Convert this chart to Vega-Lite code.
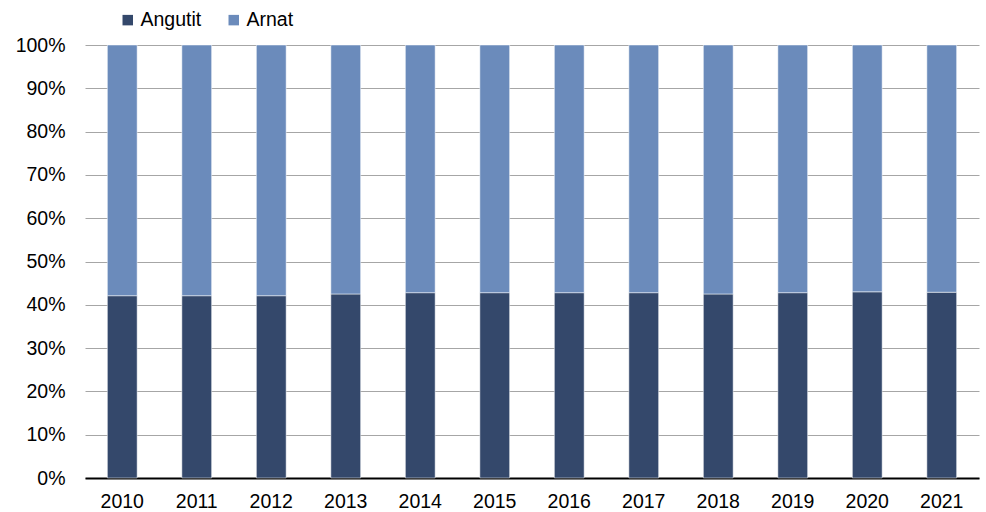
{
  "$schema": "https://vega.github.io/schema/vega-lite/v6.json",
  "width": 894,
  "height": 433,
  "autosize": {"type": "none"},
  "padding": {"left": 85, "top": 45, "right": 7, "bottom": 34},
  "background": "white",
  "data": {
    "values": [
      {"year": "2010", "group": "Angutit", "share": 42.1},
      {"year": "2011", "group": "Angutit", "share": 42.1},
      {"year": "2012", "group": "Angutit", "share": 42.1},
      {"year": "2013", "group": "Angutit", "share": 42.5},
      {"year": "2014", "group": "Angutit", "share": 42.8},
      {"year": "2015", "group": "Angutit", "share": 42.8},
      {"year": "2016", "group": "Angutit", "share": 42.8},
      {"year": "2017", "group": "Angutit", "share": 42.8},
      {"year": "2018", "group": "Angutit", "share": 42.5},
      {"year": "2019", "group": "Angutit", "share": 42.8},
      {"year": "2020", "group": "Angutit", "share": 43.0},
      {"year": "2021", "group": "Angutit", "share": 42.9},
      {"year": "2010", "group": "Arnat", "share": 57.9},
      {"year": "2011", "group": "Arnat", "share": 57.9},
      {"year": "2012", "group": "Arnat", "share": 57.9},
      {"year": "2013", "group": "Arnat", "share": 57.5},
      {"year": "2014", "group": "Arnat", "share": 57.2},
      {"year": "2015", "group": "Arnat", "share": 57.2},
      {"year": "2016", "group": "Arnat", "share": 57.2},
      {"year": "2017", "group": "Arnat", "share": 57.2},
      {"year": "2018", "group": "Arnat", "share": 57.5},
      {"year": "2019", "group": "Arnat", "share": 57.2},
      {"year": "2020", "group": "Arnat", "share": 57.0},
      {"year": "2021", "group": "Arnat", "share": 57.1}
    ]
  },
  "mark": {"type": "bar", "stroke": "white", "strokeWidth": 0.5},
  "encoding": {
    "x": {
      "field": "year",
      "type": "nominal",
      "title": null,
      "scale": {"paddingInner": 0.6, "paddingOuter": 0.3},
      "axis": {
        "labelAngle": 0,
        "labelFont": "Liberation Sans",
        "labelFontSize": 19.5,
        "labelColor": "#000000",
        "labelPadding": 14,
        "ticks": false,
        "domainColor": "#000000",
        "domainWidth": 2
      }
    },
    "y": {
      "field": "share",
      "type": "quantitative",
      "stack": "normalize",
      "title": null,
      "scale": {"domain": [0, 1], "nice": false},
      "axis": {
        "values": [0, 0.1, 0.2, 0.3, 0.4, 0.5, 0.6, 0.7, 0.8, 0.9, 1],
        "format": ".0%",
        "labelFont": "Liberation Sans",
        "labelFontSize": 19.5,
        "labelColor": "#000000",
        "labelPadding": 20,
        "ticks": false,
        "domain": false,
        "grid": true,
        "gridColor": "#a6a6a6",
        "gridWidth": 1
      }
    },
    "color": {
      "field": "group",
      "type": "nominal",
      "scale": {"domain": ["Angutit", "Arnat"], "range": ["#34486b", "#6b8bbb"]},
      "legend": {
        "title": null,
        "orient": "none",
        "direction": "horizontal",
        "legendX": 33,
        "legendY": -35,
        "symbolType": "square",
        "symbolSize": 110,
        "symbolStrokeWidth": 0,
        "labelFont": "Liberation Sans",
        "labelFontSize": 19.5,
        "labelColor": "#000000",
        "labelOffset": 3,
        "columnPadding": 22
      }
    },
    "order": {"field": "group", "sort": "ascending"}
  },
  "config": {"view": {"stroke": null}}
}
